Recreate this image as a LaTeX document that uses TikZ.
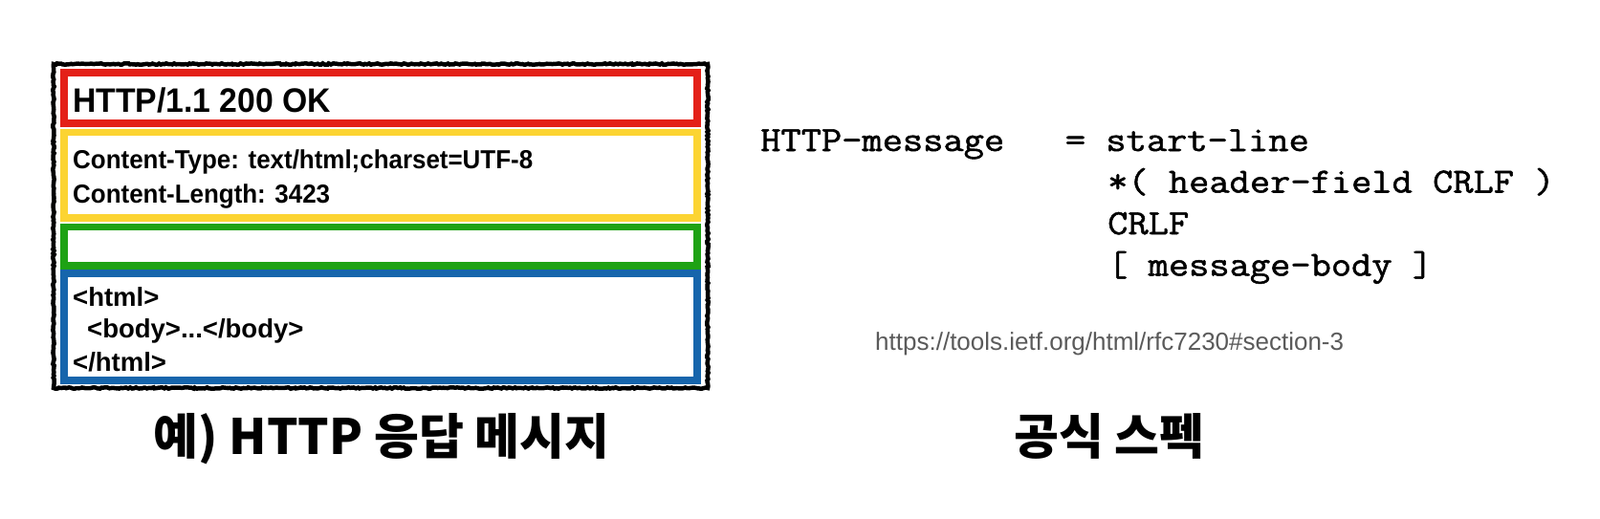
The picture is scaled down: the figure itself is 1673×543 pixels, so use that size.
\documentclass[tikz,border=0pt]{standalone}
\usepackage{fontspec}
\setmainfont{Liberation Sans}
\newfontfamily\narrow{Liberation Sans}[FakeStretch=0.95]
\newfontfamily\cour{Latin Modern Mono}[FakeStretch=1.115,FakeBold=1.4]
\newfontfamily\kr{Noto Sans CJK KR}
\usetikzlibrary{decorations.pathmorphing}
\definecolor{cred}{RGB}{228,32,24}
\definecolor{cyellow}{RGB}{252,212,50}
\definecolor{cgreen}{RGB}{30,162,20}
\definecolor{cblue}{RGB}{22,101,172}
\definecolor{urlgray}{RGB}{90,90,90}
\begin{document}
\begin{tikzpicture}[x=1pt,y=-1pt,
  part/.style={draw=#1,line width=7.5pt,minimum width=662pt,inner sep=0pt},
  frame/.style={draw=black,line width=4.5pt,minimum width=684pt,minimum height=339pt,inner sep=0pt,
     decorate,decoration={random steps,segment length=2pt,amplitude=0.7pt}},
  big/.style={anchor=base west,inner sep=0pt,font=\narrow\bfseries\fontsize{35.5}{35.5}\selectfont},
  mid/.style={anchor=base west,inner sep=0pt,font=\narrow\bfseries\fontsize{27.3}{27.3}\selectfont},
  small/.style={anchor=base west,inner sep=0pt,font=\bfseries\fontsize{27.5}{27.5}\selectfont},
  mono/.style={anchor=base west,inner sep=0pt,font=\cour\fontsize{37}{37}\selectfont},
  caption/.style={anchor=base,inner sep=0pt,font=\kr\bfseries\fontsize{51}{51}\selectfont},
  url/.style={anchor=base west,inner sep=0pt,text=urlgray,font=\fontsize{26}{26}\selectfont}]
\useasboundingbox (0,0) rectangle (1673,543);
\node[frame] (outer) at (398,236.5) {};
\node[part=cred,minimum height=53pt] (startline) at (398,102.5) {};
\node[part=cyellow,minimum height=89.5pt] (headers) at (398,183.25) {};
\node[part=cgreen,minimum height=40.5pt] (empty) at (398,257.75) {};
\node[part=cblue,minimum height=112pt] (body) at (398,342) {};
\node[big] (t1) at (76,117) {HTTP/1.1 200 OK};
\node[mid] (t2) at (76,176) {Content-Type: text/html;charset=UTF-8};
\node[mid] (t3) at (76,212) {Content-Length: 3423};
\node[small] (t4) at (76,320) {<html>};
\node[small] (t5) at (91,353) {<body>...</body>};
\node[small] (t6) at (76,388) {</html>};
\node[mono] (m1) at (795,158) {HTTP-message\ \ \ =\ start-line};
\node[mono] (m2) at (1158,201.5) {*(\ header-field CRLF\ )};
\node[mono] (m3) at (1158,245) {CRLF};
\node[mono] (m4) at (1158,288.5) {[\ message-body\ ]};
\node[url] (u) at (915,366) {https://tools.ietf.org/html/rfc7230\#section-3};
\node[caption] (c1) at (399,475) {예) HTTP 응답 메시지};
\node[caption] (c2) at (1160,475) {공식 스펙};
\end{tikzpicture}
\end{document}
